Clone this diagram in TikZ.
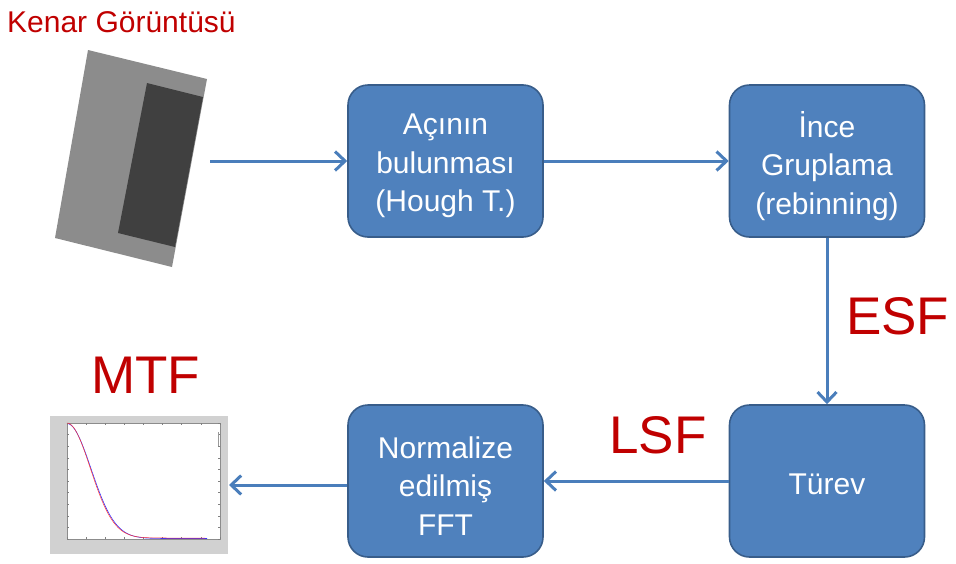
\documentclass[tikz,border=0pt]{standalone}
\usepackage{fontspec}
\setmainfont{Liberation Sans}
\usetikzlibrary{arrows.meta}
\definecolor{boxfill}{HTML}{4F81BD}
\definecolor{boxedge}{HTML}{385D8A}
\definecolor{arrowblue}{HTML}{4A7EBB}
\definecolor{labred}{HTML}{C00000}
\tikzset{
  stepbox/.style={draw=boxedge, line width=1.6pt, fill=boxfill, rounded corners=20pt,
    minimum width=195pt, minimum height=152pt, inner sep=0pt},
  steptext/.style={align=center, text=white, font=\fontsize{30}{38.5}\selectfont, inner sep=0pt},
  flow/.style={draw=arrowblue, line width=3pt, -{Straight Barb[length=10pt,width=19pt,line width=3pt]}},
  biglabel/.style={text=labred, font=\fontsize{53}{58}\selectfont, inner sep=0pt, anchor=base west},
}
\begin{document}
\begin{tikzpicture}[x=1pt,y=-1pt]
\useasboundingbox (0,0) rectangle (956,563);
% title
\node[text=labred, font=\fontsize{30}{32}\selectfont, inner sep=0pt, anchor=base west] (kenar) at (7,32) {Kenar Görüntüsü};
% edge image
\fill[black!45] (88,50) -- (207,79) -- (172,267) -- (55,238) -- cycle;
\fill[black!75] (147,83) -- (203,97) -- (175,247) -- (118,233) -- cycle;
\coordinate (imgout) at (210,161);
% boxes
\node[stepbox] (acinin) at (445.5,161) {};
\node[stepbox] (ince) at (827,161) {};
\node[stepbox] (norm) at (445.5,481) {};
\node[stepbox] (turev) at (827,481) {};
\node[steptext] (acinintext) at ([yshift=-5pt]acinin.center) {Açının\\bulunması\\(Hough T.)};
\node[steptext] (incetext) at ([yshift=-5pt]ince.center) {İnce\\Gruplama\\(rebinning)};
\node[steptext] (normtext) at ([yshift=-5pt]norm.center) {Normalize\\edilmiş\\FFT};
\node[steptext] (turevtext) at ([yshift=-3pt]turev.center) {Türev};
% MTF plot
\fill[black!18] (50,416) rectangle (228,554);
\draw[black!45, line width=0.4pt, fill=white] (67,423) rectangle (220,539);
\foreach \i in {0,...,8} {
  \draw[black!50, line width=0.3pt] (67+\i*19.1,539) -- ++(0,-2);
  \draw[black!50, line width=0.3pt] (67+\i*19.1,423) -- ++(0,2);
}
\foreach \j in {0,...,10} {
  \draw[black!50, line width=0.3pt] (67,539-\j*11.6) -- ++(2,0);
  \draw[black!50, line width=0.3pt] (220,539-\j*11.6) -- ++(-2,0);
}
\draw[black!40, line width=1pt] (218,432) -- (218,446);
\draw[blue!80, line width=0.6pt, smooth, domain=68:207, samples=60] plot (\x, {538.5-115*exp(-((\x-67)/34)^2)});
\draw[red!80, line width=0.5pt, smooth, domain=67:205, samples=60] plot (\x, {538-115*exp(-((\x-67)/33)^2)});
\coordinate (plotin) at (229,485);
\node[biglabel] (mtf) at (91,393) {MTF};
% connectors
\draw[flow] (imgout) -- (acinin.west);
\draw[flow] (acinin.east) -- (ince.west);
\draw[flow] (ince.south) -- (turev.north);
\draw[flow] (turev.west) -- (norm.east);
\draw[flow] (norm.west |- plotin) -- (plotin);
% labels
\node[biglabel] (esf) at (846,334) {ESF};
\node[biglabel] (lsf) at (609,453) {LSF};
\end{tikzpicture}
\end{document}
